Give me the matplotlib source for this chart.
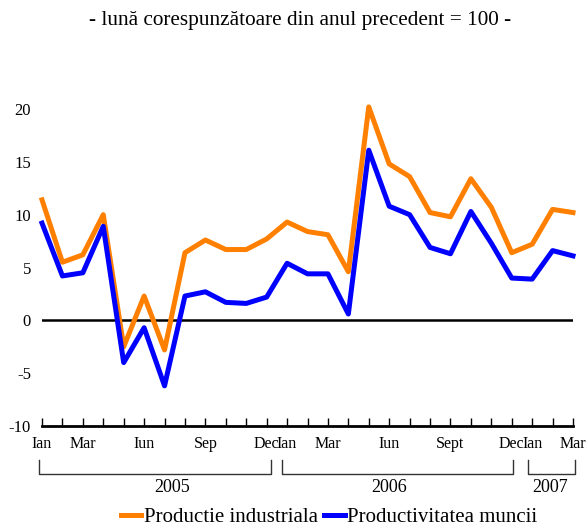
import matplotlib
matplotlib.use("Agg")
import matplotlib.pyplot as plt
from matplotlib.lines import Line2D

plt.rcParams["font.family"] = ["Liberation Serif", "DejaVu Serif"]

# lunile: ian 2005 - mar 2007
month_labels = ["Ian", "", "Mar", "", "", "Iun", "", "", "Sep", "", "", "Dec",
                "Ian", "", "Mar", "", "", "Iun", "", "", "Sept", "", "", "Dec",
                "Ian", "", "Mar"]

productie = [11.4, 5.5, 6.2, 10.0, -2.5, 2.3, -2.8, 6.4, 7.6, 6.7, 6.7, 7.7,
             9.3, 8.4, 8.1, 4.6, 20.2, 14.8, 13.6, 10.2, 9.8, 13.4, 10.7, 6.4,
             7.2, 10.5, 10.2]
productivitate = [9.2, 4.2, 4.5, 8.9, -4.0, -0.7, -6.2, 2.3, 2.7, 1.7, 1.6, 2.2,
                  5.4, 4.4, 4.4, 0.6, 16.1, 10.8, 10.0, 6.9, 6.3, 10.3, 7.3, 4.0,
                  3.9, 6.6, 6.1]

years = ["2005", "2006", "2007"]
year_spans = [(-0.15, 11.2), (11.75, 23.07), (23.8, 26.1)]
year_centers = [6.37, 17.0, 24.9]

ORANGE = "#FF8000"
BLUE = "#0000FF"

fig = plt.figure(figsize=(5.87, 5.28), dpi=100)
ax = fig.add_axes([42 / 587, 102 / 528, 531 / 587, 317 / 528])

x = list(range(len(month_labels)))
ax.plot(x, productie, color=ORANGE, linewidth=3.6, label="Productie industriala",
        clip_on=False, zorder=3)
ax.plot(x, productivitate, color=BLUE, linewidth=3.6, label="Productivitatea muncii",
        clip_on=False, zorder=4)
ax.axhline(0, color="black", linewidth=1.8, zorder=2)

ax.set_xlim(0, 26)
ax.set_ylim(-10, 20)
ax.set_yticks([-10, -5, 0, 5, 10, 15, 20])
ax.set_yticklabels(["-10", "-5", "0", "5", "10", "15", "20"])
ax.set_xticks(x)
ax.set_xticklabels(month_labels)

for side in ["top", "right", "left"]:
    ax.spines[side].set_visible(False)
ax.spines["bottom"].set_linewidth(2)
ax.tick_params(axis="x", direction="in", length=6, width=1, pad=7, labelsize=11.5)
ax.tick_params(axis="y", length=0, pad=8, labelsize=12)

# acolade pentru ani sub axa
for (x0, x1), yr, xc in zip(year_spans, years, year_centers):
    tr = ax.get_xaxis_transform()
    y_top = -34 / 317
    y_bot = -48 / 317
    fig.add_artist(Line2D([x0, x0, x1, x1], [y_top, y_bot, y_bot, y_top],
                          transform=tr, color="#333333", linewidth=1))
    ax.text(xc, -61 / 317, yr, transform=tr, ha="center", va="center", fontsize=13)

fig.text(0.511, 1 - 20 / 528, "- lună corespunzătoare din anul precedent = 100 -",
         ha="center", va="center", fontsize=15.3)

fig.legend(loc="center", bbox_to_anchor=(0.56, 1 - 517 / 528), ncol=2, frameon=False,
           fontsize=15, handlelength=1.0, handletextpad=0.1, columnspacing=0.3,
           borderpad=0)

fig.savefig("out.png", dpi=100)
